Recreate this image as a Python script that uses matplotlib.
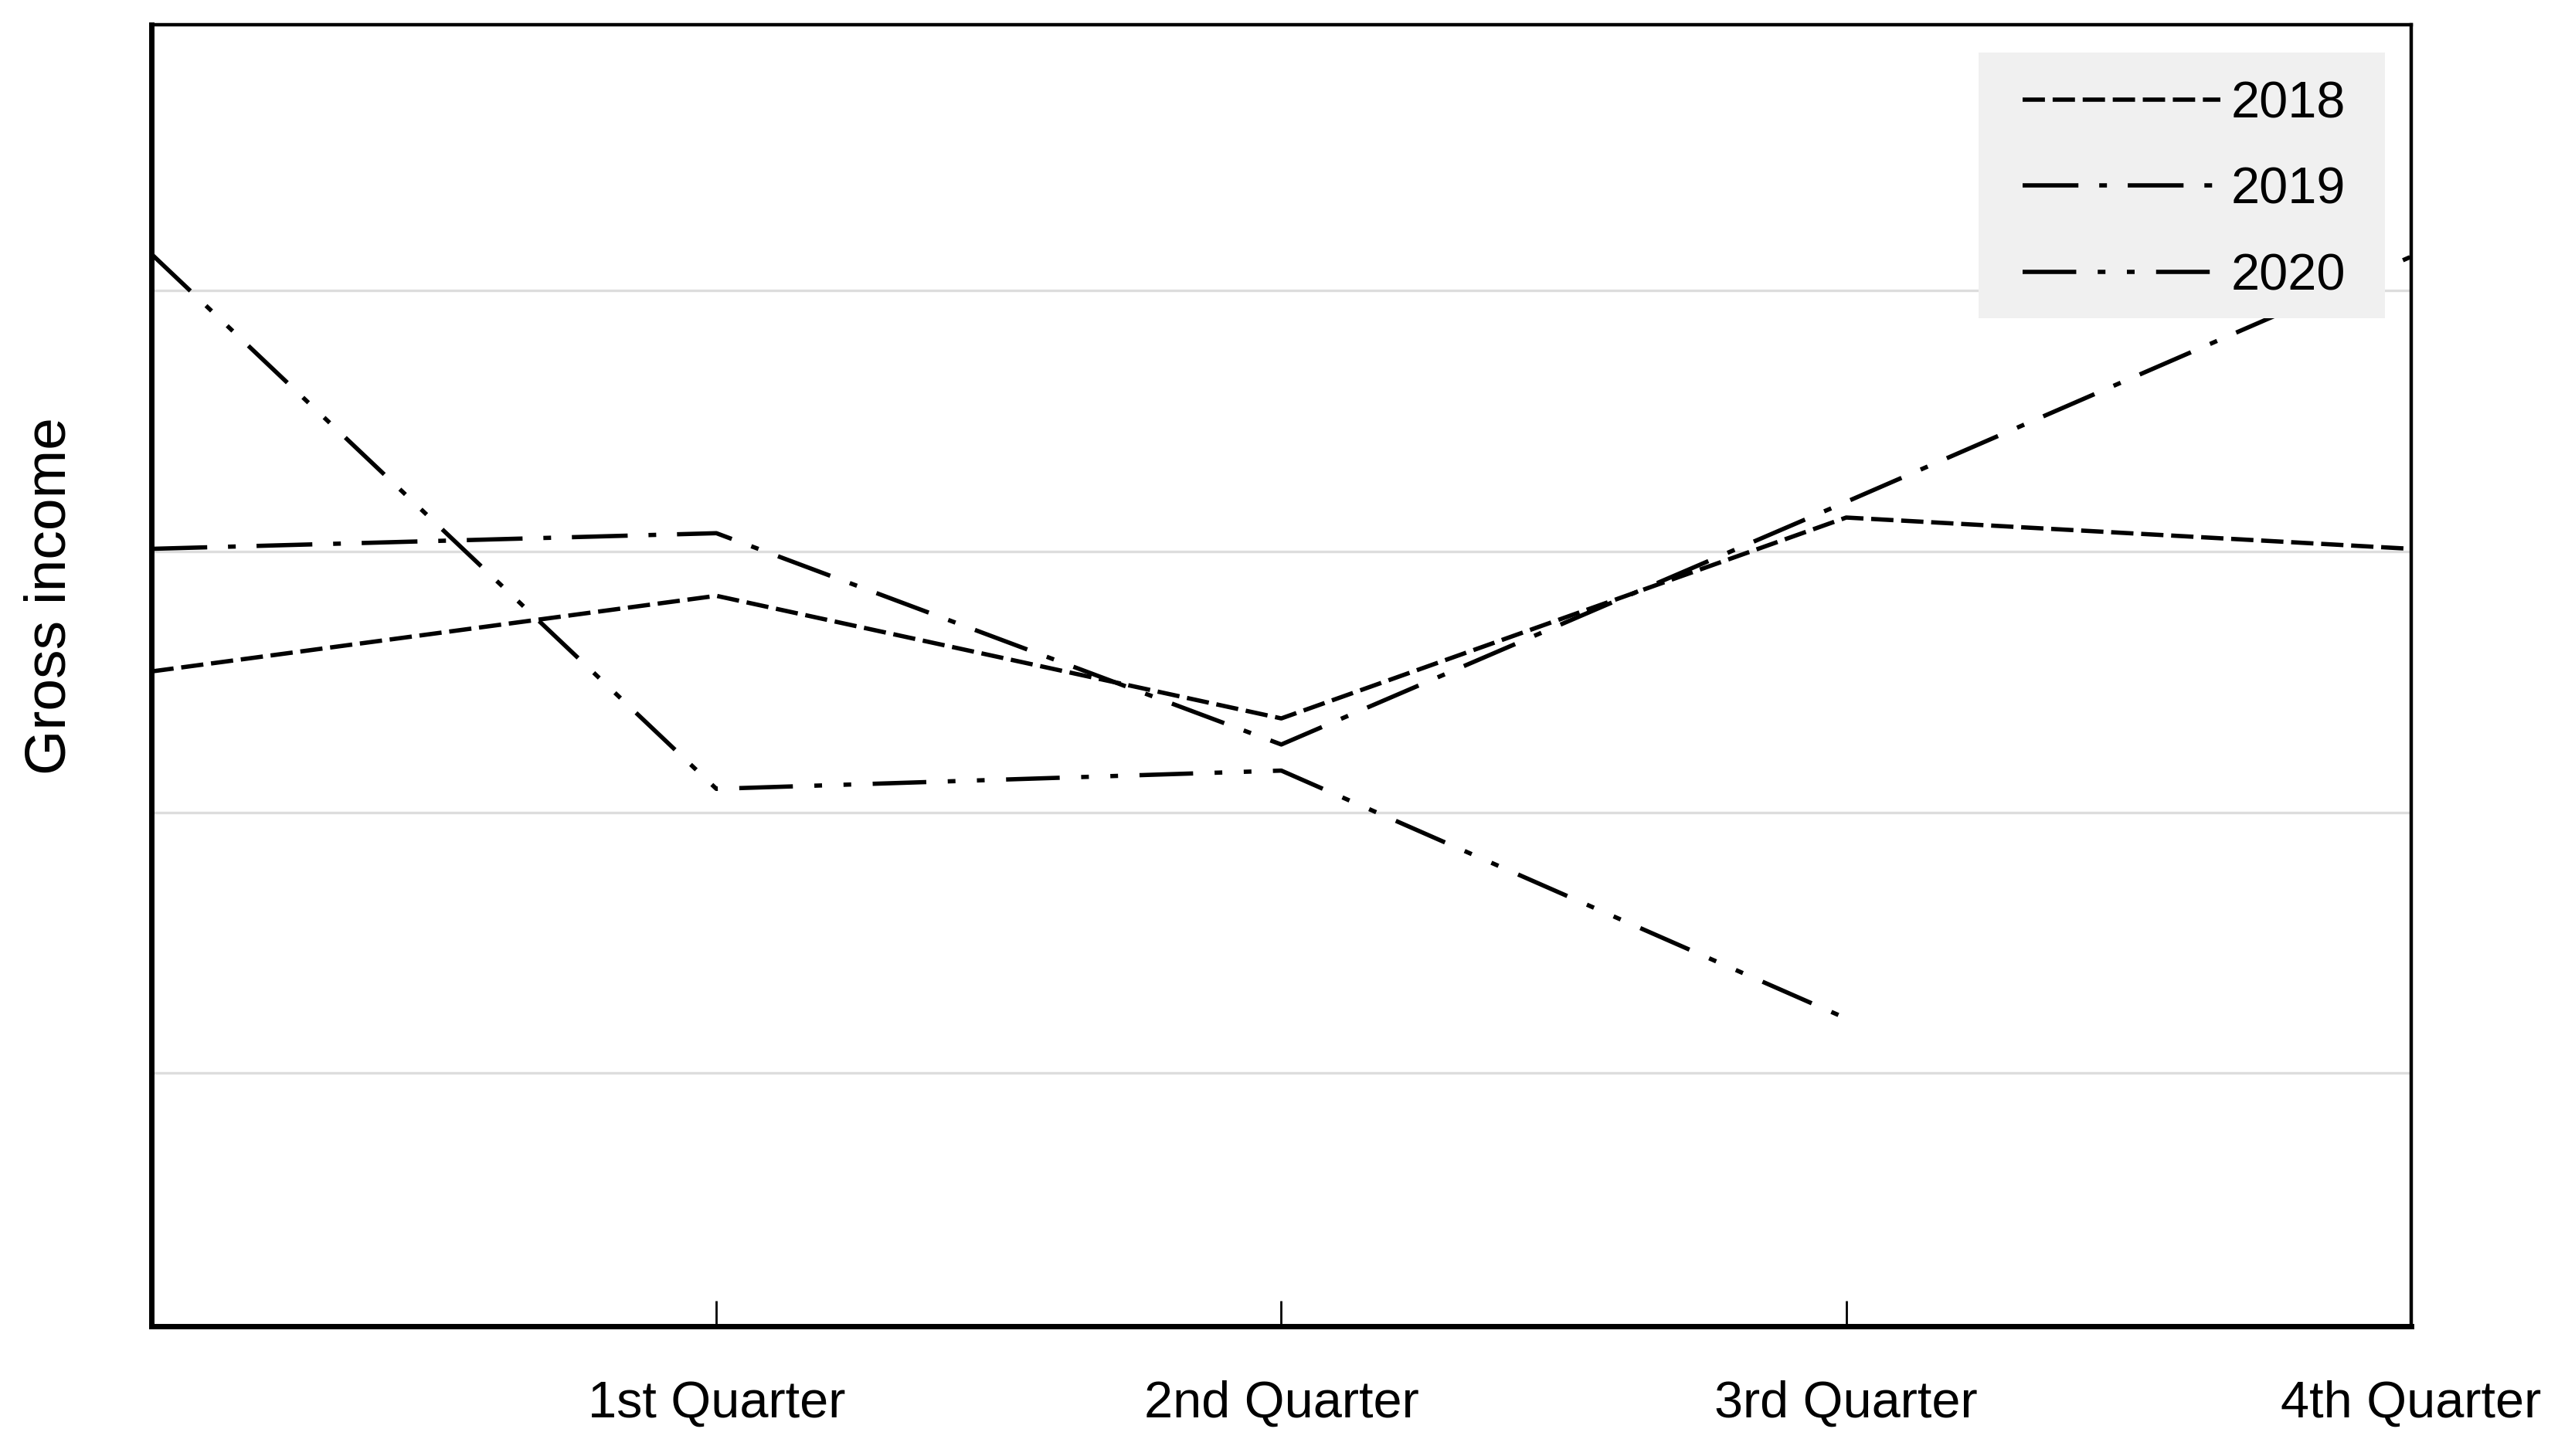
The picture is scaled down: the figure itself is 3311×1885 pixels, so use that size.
from matplotlib import pyplot as plt
from matplotlib.patches import Rectangle

plt.rcParams['font.family'] = ['Liberation Sans', 'DejaVu Sans']
plt.rcParams['lines.scale_dashes'] = False

# x positions: 0 is the left edge (start value), 1..4 are the quarters
x = [0, 1, 2, 3, 4]
quarters = ["1st Quarter", "2nd Quarter", "3rd Quarter", "4th Quarter"]

income_2018 = [2.54, 2.83, 2.36, 3.13, 3.01]
income_2019 = [3.01, 3.07, 2.26, 3.19, 4.13]
x_2020 = [0, 1, 2, 3]
income_2020 = [4.14, 2.09, 2.16, 1.21]

fig = plt.figure(figsize=(16.555, 9.425), dpi=200)
ax = fig.add_axes([0.0592, 0.0891, 0.8834, 0.8941])

ax.plot(x, income_2018, color='black', lw=2.0, dashes=(10.4, 3.6), label='2018')
ax.plot(x, income_2019, color='black', lw=2.0, dashes=(26, 9.7, 3.6, 9.7), label='2019')
ax.plot(x_2020, income_2020, color='black', lw=2.0,
        dashes=(25, 10, 3.6, 10, 3.6, 10), label='2020')

ax.set_xlim(0, 4)
ax.set_ylim(0.03, 5.02)

ax.set_yticks([1, 2, 3, 4])
ax.set_yticklabels([])
ax.tick_params(axis='y', length=0)
ax.grid(axis='y', color='#dddddd', lw=1.2)
ax.set_axisbelow(True)

ax.set_xticks([1, 2, 3, 4])
ax.set_xticklabels(quarters, fontsize=24)
ax.tick_params(axis='x', direction='in', length=12, width=1, pad=25, colors='black')

for side in ['left', 'bottom']:
	ax.spines[side].set_linewidth(2.5)
for side in ['top', 'right']:
	ax.spines[side].set_linewidth(1.6)

ax.set_ylabel("Gross income", fontsize=27)
ax.yaxis.set_label_coords(-0.033, 0.561)

# grey legend background, drawn as its own patch over the lines
ax.add_patch(Rectangle((0.8087, 0.7744), 0.1798, 0.2043, transform=ax.transAxes,
                       facecolor='#f0f0f0', edgecolor='none', zorder=4.5))

leg = ax.legend(loc='upper left', bbox_to_anchor=(0.8282, 0.9568), borderaxespad=0,
                borderpad=0, fontsize=24, handlelength=3.84, handletextpad=0.2,
                labelspacing=0.74, frameon=False)

fig.savefig('out.png', dpi=200)
